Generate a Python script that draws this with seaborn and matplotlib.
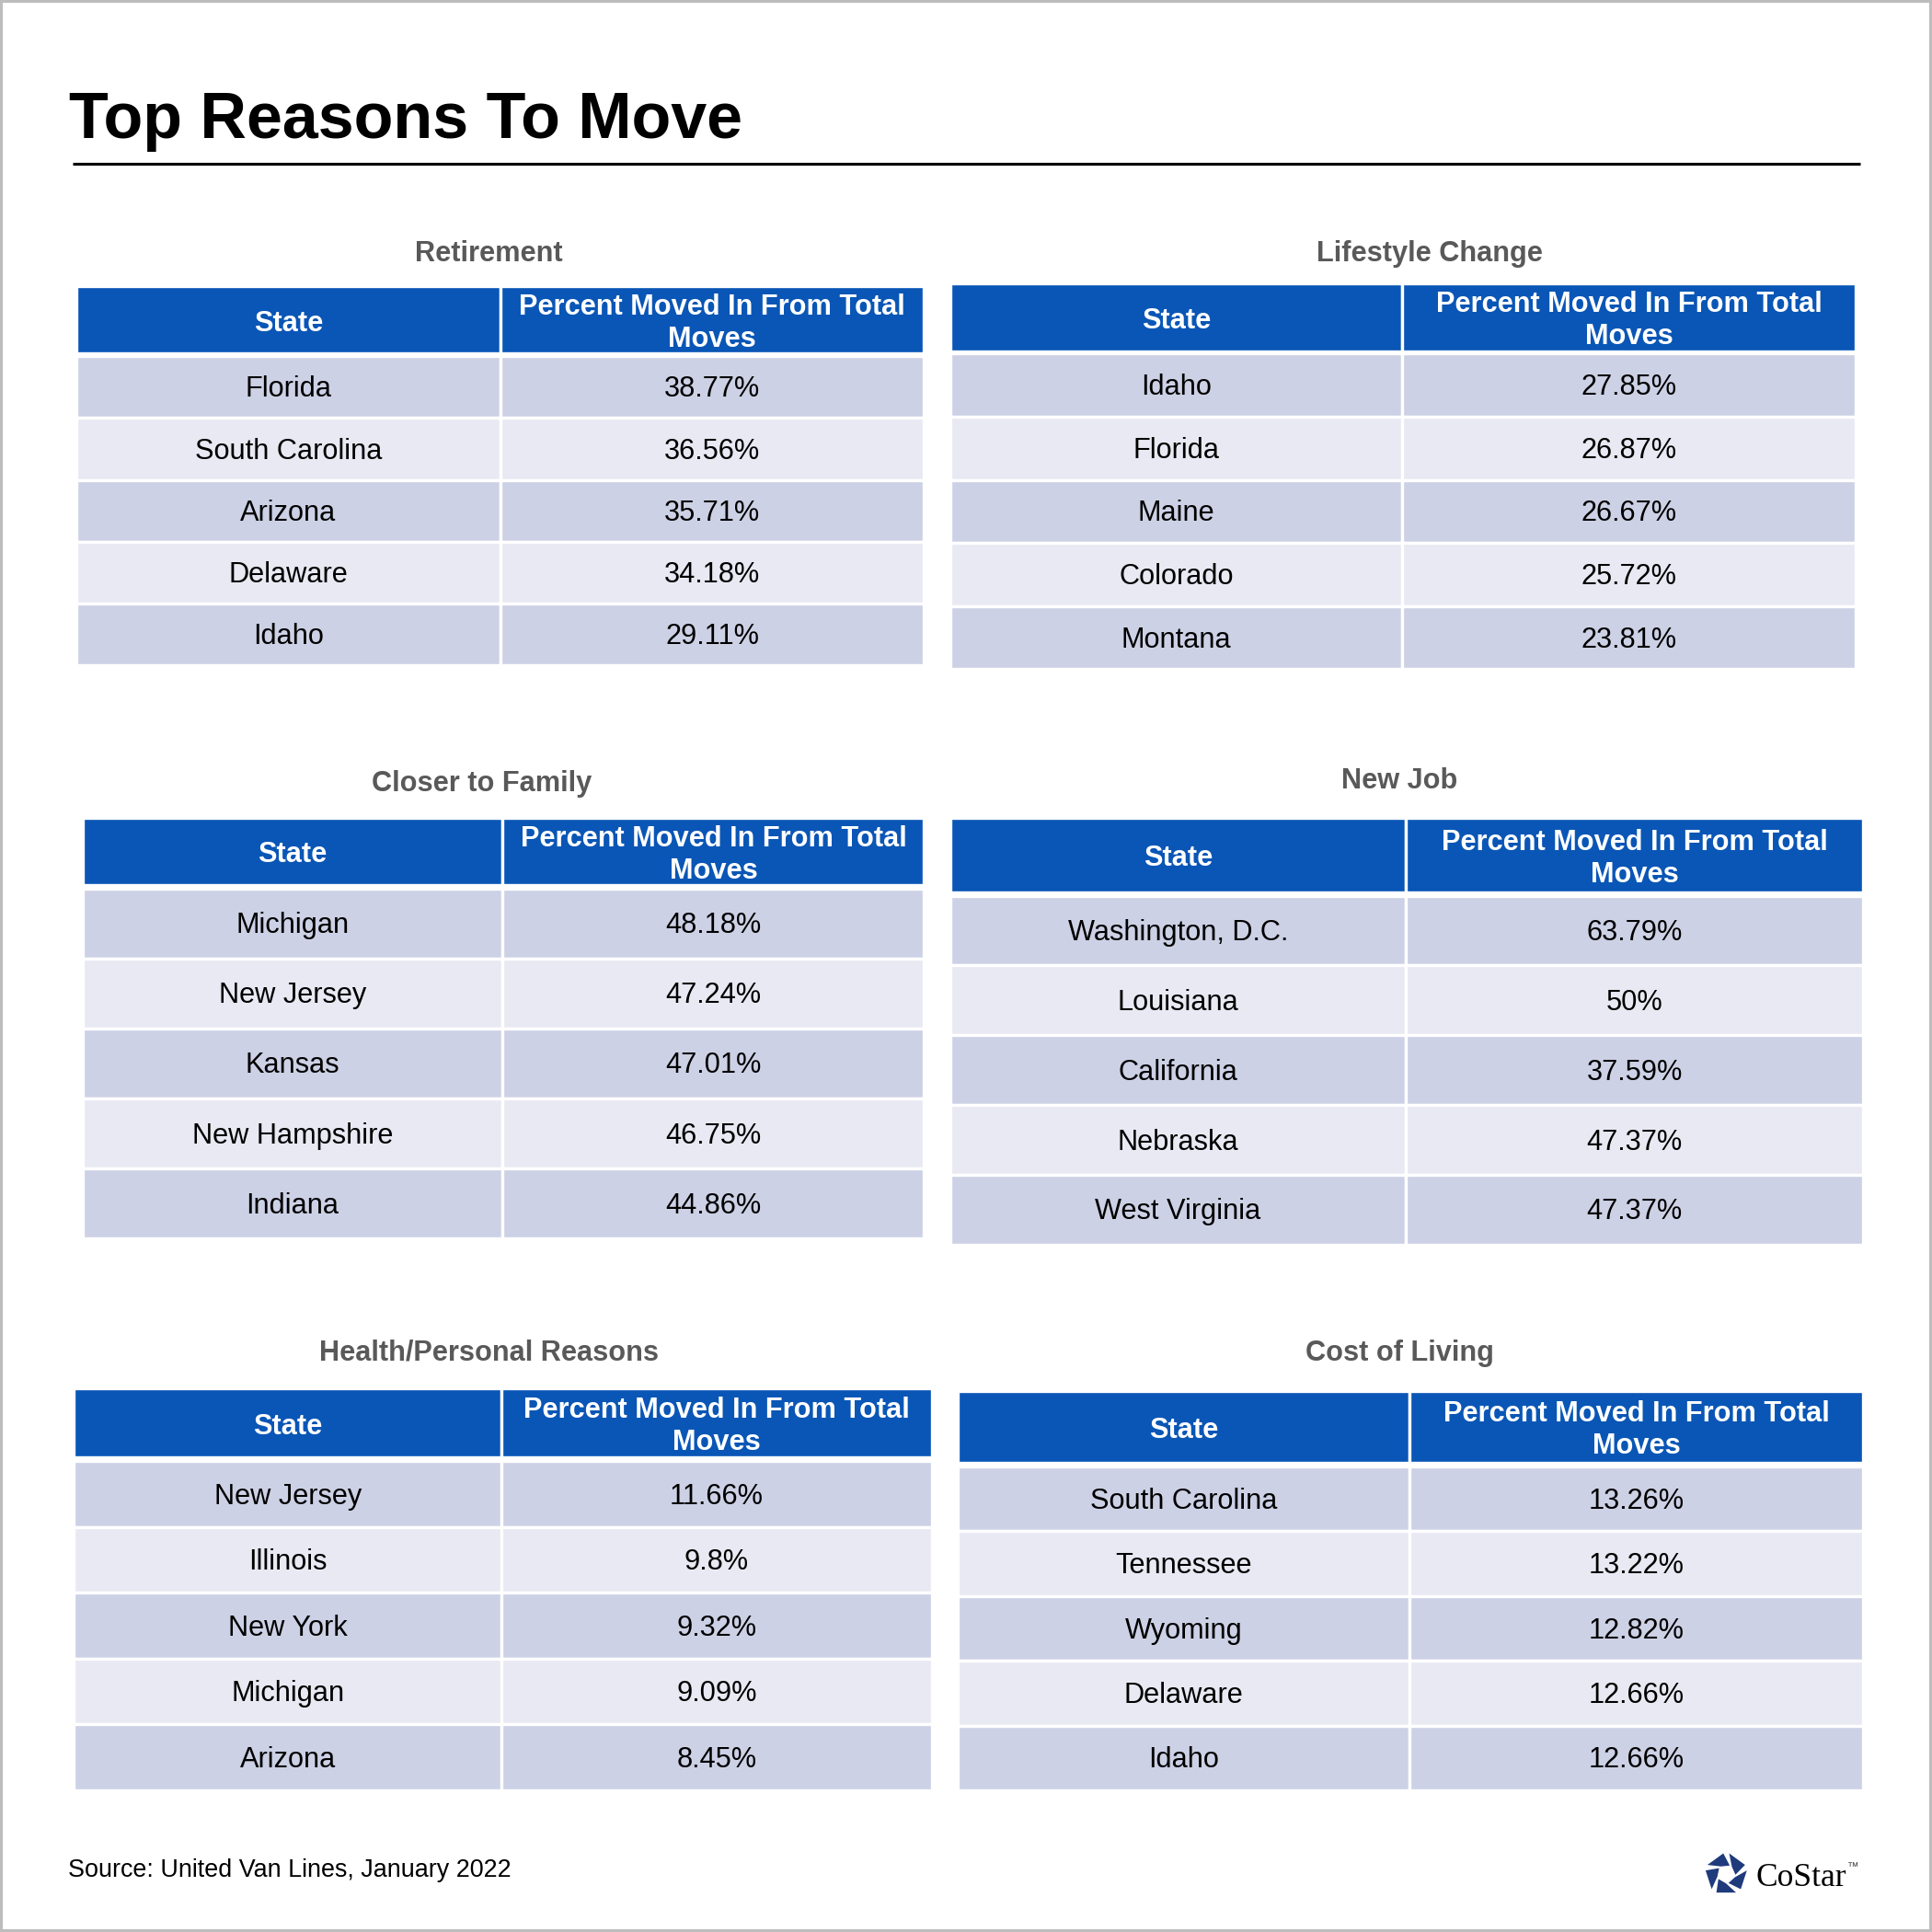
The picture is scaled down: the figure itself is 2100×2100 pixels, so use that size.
import numpy as np
import pandas as pd
import matplotlib
matplotlib.use("Agg")
import matplotlib.pyplot as plt
from matplotlib.patches import Rectangle, Polygon
import seaborn as sns

# ---------------- data ----------------
chart_title = "Top Reasons To Move"
source_text = "Source: United Van Lines, January 2022"
col_state = "State"
col_percent = "Percent Moved In From Total\nMoves"

table_titles = ["Retirement", "Lifestyle Change", "Closer to Family",
                "New Job", "Health/Personal Reasons", "Cost of Living"]

retirement_states = ["Florida", "South Carolina", "Arizona", "Delaware", "Idaho"]
retirement_values = [38.77, 36.56, 35.71, 34.18, 29.11]

lifestyle_states = ["Idaho", "Florida", "Maine", "Colorado", "Montana"]
lifestyle_values = [27.85, 26.87, 26.67, 25.72, 23.81]

family_states = ["Michigan", "New Jersey", "Kansas", "New Hampshire", "Indiana"]
family_values = [48.18, 47.24, 47.01, 46.75, 44.86]

job_states = ["Washington, D.C.", "Louisiana", "California", "Nebraska", "West Virginia"]
job_values = [63.79, 50, 37.59, 47.37, 47.37]

health_states = ["New Jersey", "Illinois", "New York", "Michigan", "Arizona"]
health_values = [11.66, 9.8, 9.32, 9.09, 8.45]

cost_states = ["South Carolina", "Tennessee", "Wyoming", "Delaware", "Idaho"]
cost_values = [13.26, 13.22, 12.82, 12.66, 12.66]

all_states = [retirement_states, lifestyle_states, family_states,
              job_states, health_states, cost_states]
all_values = [retirement_values, lifestyle_values, family_values,
              job_values, health_values, cost_values]

# ---------------- layout (canvas units, 1568 wide) ----------------
# x0, split, x1, title_x, title_y, header_top, header_bottom, body_top, body_bottom
layout = [
    (62, 406, 750, 397, 204, 232, 287, 289, 540),
    (771, 1138, 1506, 1160, 204, 230, 285, 287, 543),
    (67, 408, 750, 391, 634, 664, 718, 721, 1005),
    (771, 1141, 1512, 1136, 632, 664, 724, 727, 1010),
    (60, 407, 756, 397, 1096, 1127, 1183, 1186, 1453),
    (777, 1144, 1512, 1136, 1096, 1129, 1187, 1190, 1453),
]

HEADER_BLUE = "#0A56B6"
ROW_DARK = "#CDD1E5"
ROW_LIGHT = "#E8E9F2"
TITLE_GRAY = "#595959"
LOGO_NAVY = "#1F3B7C"

sns.set_theme(style="white")
plt.rcParams["font.family"] = ["Liberation Sans", "DejaVu Sans"]

W = 1568
fig = plt.figure(figsize=(7, 7), dpi=300)
ax = fig.add_axes([0, 0, 1, 1])
ax.set_xlim(0, W)
ax.set_ylim(W, 0)
ax.axis("off")

# outer frame
ax.add_patch(Rectangle((1, 1), W - 2, W - 2, fill=False, edgecolor="#BDBDBD", lw=1.0))

# main title + rule
ax.text(56, 93, chart_title, fontsize=16.8, fontweight="bold", color="black",
        ha="left", va="center_baseline")
ax.plot([59, 1510], [133, 133], color="black", lw=0.75, solid_capstyle="butt")

CELL_FS = 7.4
GAP_LW = 0.8
DY = 2

for title, states, values, lay in zip(table_titles, all_states, all_values, layout):
    x0, xs, x1, tx, ty, ht, hb, bt, bb = lay
    df = pd.DataFrame({"state": states, "value": values})
    ax.text(tx, ty + DY, title, fontsize=7.4, fontweight="bold", color=TITLE_GRAY,
            ha="center", va="center")
    # header
    for (a, b), label in zip([(x0, xs), (xs, x1)], [col_state, col_percent]):
        ax.add_patch(Rectangle((a, ht), b - a, hb - ht, facecolor=HEADER_BLUE,
                               edgecolor="white", lw=GAP_LW))
        ax.text((a + b) / 2, (ht + hb) / 2 + DY + 1, label, fontsize=7.4, fontweight="bold",
                color="white", ha="center", va="center", linespacing=1.22)
    n = len(df)
    rh = (bb - bt) / n
    for i, row in df.iterrows():
        y = bt + i * rh
        fc = ROW_DARK if i % 2 == 0 else ROW_LIGHT
        for (a, b), label in zip([(x0, xs), (xs, x1)],
                                 [row["state"], f"{row['value']:g}%"]):
            ax.add_patch(Rectangle((a, y), b - a, rh, facecolor=fc,
                                   edgecolor="white", lw=GAP_LW))
            ax.text((a + b) / 2, y + rh / 2 + DY, label, fontsize=CELL_FS,
                    color="black", ha="center", va="center")

# source
ax.text(55, 1518, source_text, fontsize=6.45, color="black", ha="left", va="center")

# CoStar logo
cx, cy = 1401, 1521
R, r = 17, 7.5
for k in range(5):
    t0 = np.deg2rad(-90 + 72 * k + 8)
    t1 = np.deg2rad(-90 + 72 * (k + 1) - 8)
    d = np.deg2rad(30)
    pts = [
        (cx + R * np.cos(t0), cy + R * np.sin(t0)),
        (cx + R * np.cos(t1), cy + R * np.sin(t1)),
        (cx + r * np.cos(t1 + d), cy + r * np.sin(t1 + d)),
        (cx + r * np.cos(t0 + d), cy + r * np.sin(t0 + d)),
    ]
    ax.add_patch(Polygon(pts, closed=True, facecolor=LOGO_NAVY, edgecolor="none"))
ax.text(1425, 1524, "CoStar", fontsize=8.5, family=["Liberation Serif", "DejaVu Serif"],
        color="black", ha="left", va="center")
ax.text(1499, 1516, "™", fontsize=3, color="#444444", ha="left", va="center")

fig.savefig("out.png", dpi=300, facecolor="white")
